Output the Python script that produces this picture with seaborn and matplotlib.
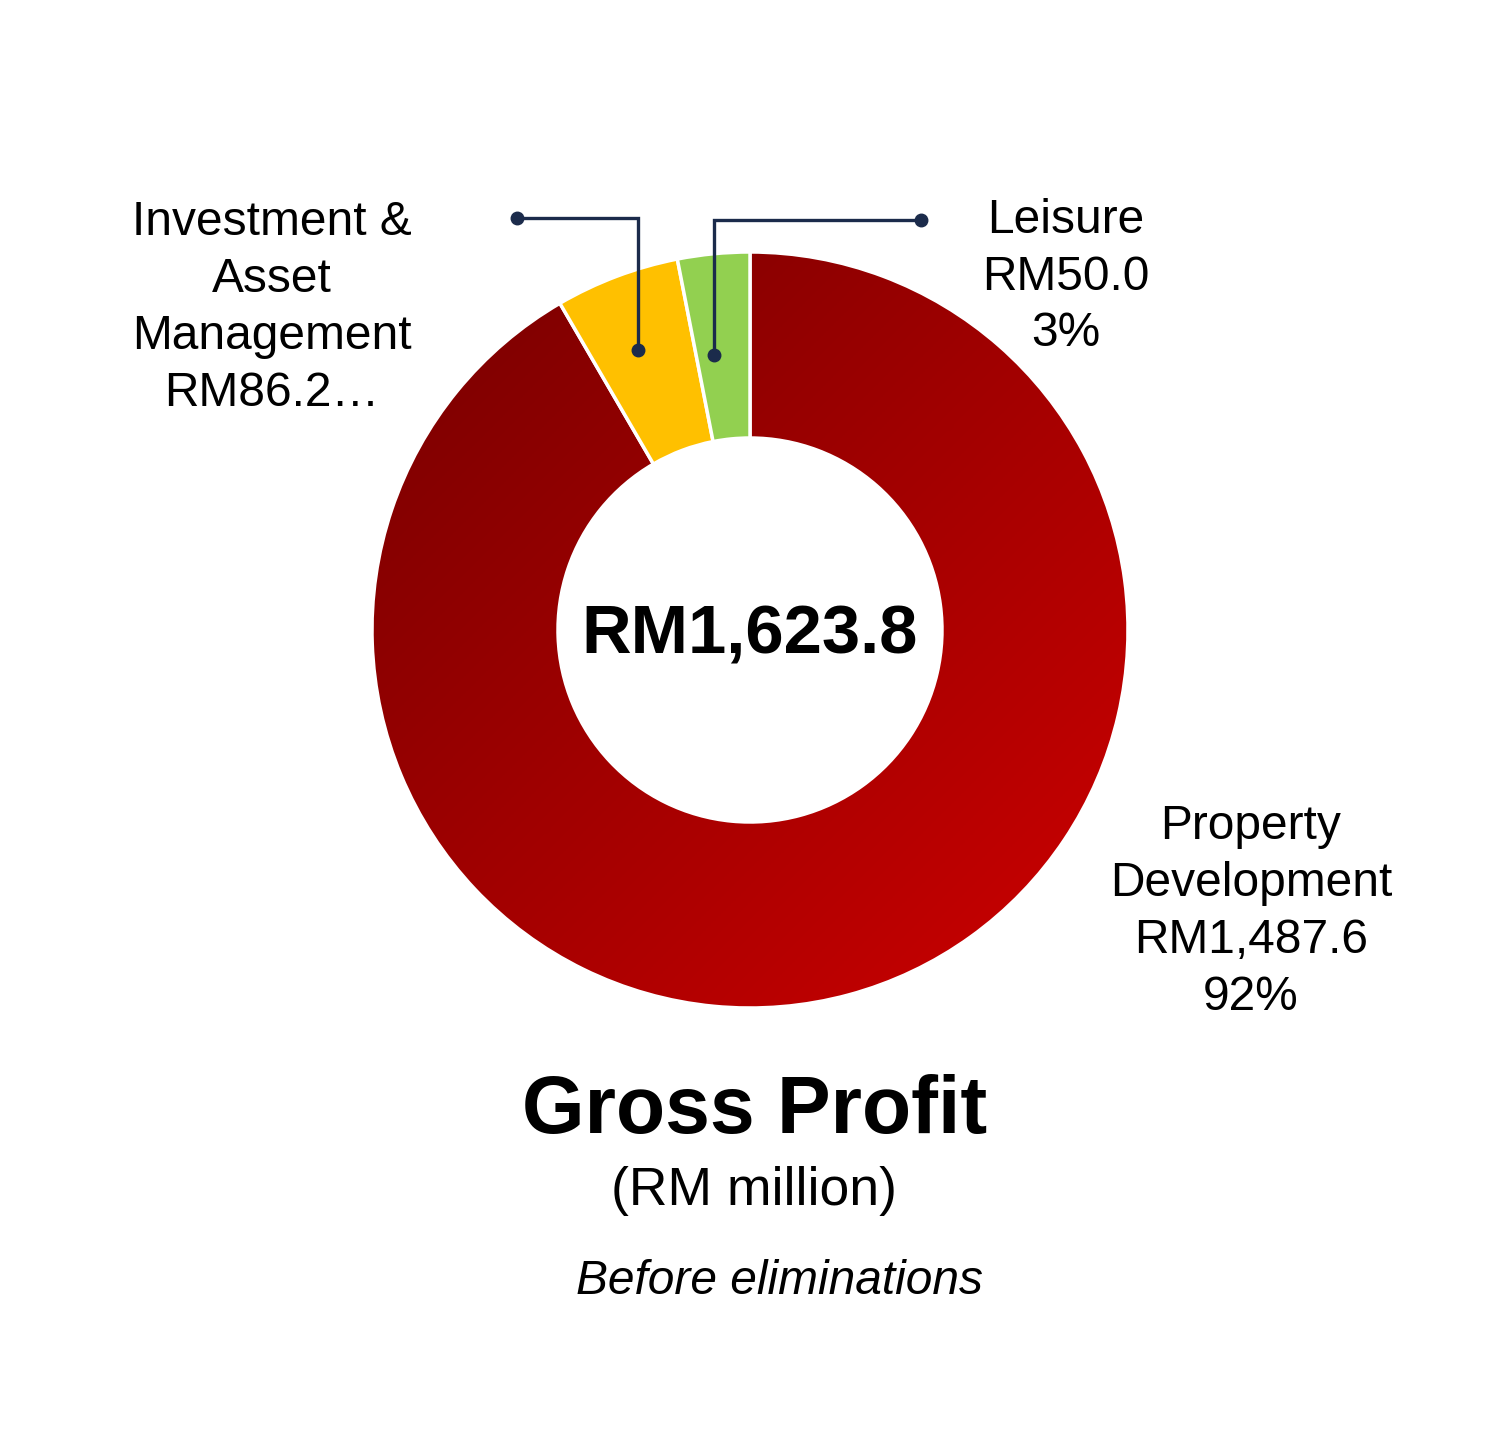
import numpy as np
import matplotlib
matplotlib.use("Agg")
import matplotlib.pyplot as plt
import seaborn as sns
from matplotlib.colors import LinearSegmentedColormap

# data (RM million, before eliminations)
segments = ["Property Development", "Investment & Asset Management", "Leisure"]
values = [1487.6, 86.2, 50.0]
shares = ["92%", "5%", "3%"]
colors = ["#B00000", "#FFC000", "#92D050"]
total = 1623.8

W, H = 1500, 1430


def py(y):
    # picture rows count from the top, data y from the bottom
    return H - y


sns.set_theme(style="white")
plt.rcParams['font.family'] = ['Liberation Sans', 'DejaVu Sans']
plt.rcParams['text.color'] = 'black'

fig = plt.figure(figsize=(W / 100, H / 100), dpi=100)
ax = fig.add_axes([0, 0, 1, 1])

cx, cy, r_out, ring = 750, py(630), 378, 186
wedges, _ = ax.pie(values, colors=colors, startangle=90, counterclock=False,
                   radius=r_out, center=(cx, cy),
                   wedgeprops=dict(width=ring, edgecolor="white", linewidth=2.5))
ax.set_aspect("equal")
ax.axis("off")

# diagonal gradient on the big slice
grad = LinearSegmentedColormap.from_list("reds", ["#760000", "#CE0000"])
gx, gy = np.meshgrid(np.linspace(0, 1, 300), np.linspace(0, 1, 300))
img = ax.imshow((gx + gy) / 2, cmap=grad, origin="upper",
                extent=(cx - r_out, cx + r_out, cy - r_out, cy + r_out),
                zorder=0.5, interpolation="bilinear")
img.set_clip_path(wedges[0])
wedges[0].set_facecolor("none")
ax.set_xlim(0, W)
ax.set_ylim(0, H)

# leader lines
navy = "#1B2B4B"
ax.plot([517, 638, 638], [py(218), py(218), py(350)], color=navy, lw=2.4,
        solid_joinstyle="miter")
ax.plot([517, 638], [py(218), py(350)], "o", color=navy, ms=9)
ax.plot([714, 714, 921], [py(355), py(220), py(220)], color=navy, lw=2.4,
        solid_joinstyle="miter")
ax.plot([714, 921], [py(355), py(220)], "o", color=navy, ms=9)

fs = 34.5
ls = 1.34
ax.text(272, py(308), "Investment &\nAsset\nManagement\nRM%.1f\u2026" % values[1],
        ha="center", va="center", fontsize=fs, linespacing=ls)
ax.text(1066, py(277), "Leisure\nRM%.1f\n%s" % (values[2], shares[2]),
        ha="center", va="center", fontsize=fs, linespacing=ls)
ax.text(1251, py(912), "Property\nDevelopment\nRM{:,.1f}\n{}".format(values[0], shares[0]),
        ha="center", va="center", fontsize=fs, linespacing=ls)

ax.text(cx, py(635), "RM{:,.1f}".format(total), ha="center", va="center",
        fontsize=49.5, fontweight="bold")
ax.text(755, py(1112), "Gross Profit", ha="center", va="center",
        fontsize=58, fontweight="bold")
ax.text(754, py(1191), "(RM million)", ha="center", va="center", fontsize=38.5)
ax.text(780, py(1282), "Before eliminations", ha="center", va="center",
        fontsize=34.5, style="italic")

fig.savefig("out.png", dpi=100, facecolor="white")
